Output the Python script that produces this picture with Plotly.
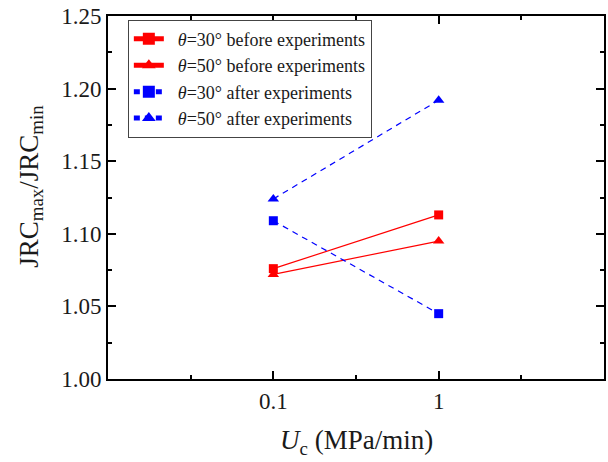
import plotly.graph_objects as go

# Loading rate U_c (MPa/min) on a log axis
loading_rate = [0.1, 1]

# JRC_max / JRC_min ratios
ratio_30_before = [1.076, 1.113]
ratio_50_before = [1.072, 1.095]
ratio_30_after = [1.109, 1.045]
ratio_50_after = [1.124, 1.192]

series_names = [
    "\u2002<i>θ</i>=30° before experiments",
    "\u2002<i>θ</i>=50° before experiments",
    "\u2002<i>θ</i>=30° after experiments",
    "\u2002<i>θ</i>=50° after experiments",
]

x_tick_vals = [0.1, 1]
x_tick_text = ["0.1", "1"]
y_tick_vals = [1.00, 1.05, 1.10, 1.15, 1.20, 1.25]
y_tick_text = ["1.00", "1.05", "1.10", "1.15", "1.20", "1.25"]

RED = "#FF0000"
BLUE = "#0000FF"
FONT = "Liberation Serif"
TEXT = "#1a1a1a"

styles = [
    (ratio_30_before, RED, "solid", "square", 9),
    (ratio_50_before, RED, "solid", "triangle-up", 10),
    (ratio_30_after, BLUE, "6px,5px", "square", 9),
    (ratio_50_after, BLUE, "6px,5px", "triangle-up", 10),
]

fig = go.Figure()
for name, (vals, color, dash, symbol, size) in zip(series_names, styles):
    fig.add_trace(go.Scatter(
        x=loading_rate, y=vals, name=name, mode="lines+markers",
        line=dict(color=color, width=1.2, dash=dash),
        marker=dict(symbol=symbol, size=size, color=color),
    ))

axis_common = dict(
    showline=True, linecolor="black", linewidth=1.8, mirror="allticks",
    ticks="inside", ticklen=8, tickwidth=1.5, tickcolor="black",
    showgrid=False, zeroline=False,
    tickfont=dict(family=FONT, size=23, color=TEXT),
)

fig.update_xaxes(
    type="log", range=[-2, 1],
    tickmode="array", tickvals=x_tick_vals, ticktext=x_tick_text,
    minor=dict(tickvals=[10 ** -1.5, 10 ** -0.5, 10 ** 0.5], ticks="inside",
               ticklen=4, tickwidth=1.5, tickcolor="black", showgrid=False),
    **axis_common,
)
fig.update_yaxes(
    range=[1.0, 1.25],
    tickmode="array", tickvals=y_tick_vals, ticktext=y_tick_text,
    minor=dict(tickvals=[1.025, 1.075, 1.125, 1.175, 1.225], ticks="inside",
               ticklen=4, tickwidth=1.5, tickcolor="black", showgrid=False),
    **axis_common,
)

# Axis titles placed as annotations
fig.add_annotation(
    text="<i>U</i><sub>c</sub> (MPa/min)", xref="paper", yref="paper",
    x=0.5, y=-0.173, xanchor="center", yanchor="middle", showarrow=False,
    font=dict(family=FONT, size=27, color=TEXT),
)
fig.add_annotation(
    text="JRC<sub>max</sub>/JRC<sub>min</sub>", xref="paper", yref="paper",
    x=-0.157, y=0.53, xanchor="center", yanchor="middle", showarrow=False,
    textangle=-90, font=dict(family=FONT, size=27, color=TEXT),
)

fig.update_layout(
    width=608, height=462,
    margin=dict(l=108, r=2, t=16, b=83),
    plot_bgcolor="white", paper_bgcolor="white",
    font=dict(family=FONT, color=TEXT),
    legend=dict(
        x=0.04, y=0.99, xanchor="left", yanchor="top",
        bgcolor="white", bordercolor="#444444", borderwidth=1,
        font=dict(family=FONT, size=18, color=TEXT),
        tracegroupgap=0, itemsizing="constant",
    ),
    showlegend=True,
)

fig.write_html("out.html")
